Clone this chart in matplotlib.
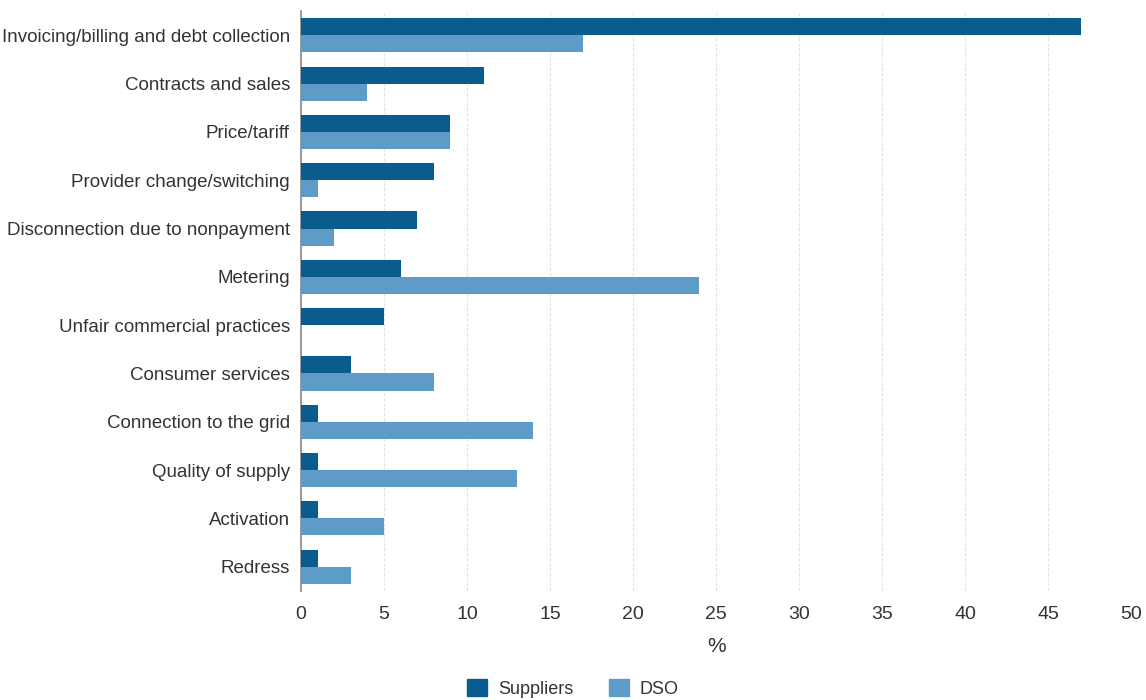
import numpy as np
from matplotlib import pyplot as plt
from matplotlib.patches import Patch

categories = ["Invoicing/billing and debt collection", "Contracts and sales", "Price/tariff",
	"Provider change/switching", "Disconnection due to nonpayment", "Metering",
	"Unfair commercial practices", "Consumer services", "Connection to the grid",
	"Quality of supply", "Activation", "Redress"]
suppliers = [47, 11, 9, 8, 7, 6, 5, 3, 1, 1, 1, 1]
dso = [17, 4, 9, 1, 2, 24, 0, 8, 14, 13, 5, 3]
xticks = [0, 5, 10, 15, 20, 25, 30, 35, 40, 45, 50]

plt.rcParams['font.family'] = ['Liberation Sans Narrow', 'Liberation Sans', 'DejaVu Sans']

dark = "#0b5c8e"
light = "#5e9bc6"
text_col = "#333333"

fig = plt.figure(figsize=(11.46, 7.0), dpi=100)
ax = fig.add_axes([0.2627, 0.156, 0.7243, 0.828])

y = np.arange(len(categories))
h = 0.355
ax.barh(y - h / 2, suppliers, height=h, color=dark, label="Suppliers", zorder=3)
ax.barh(y + h / 2, dso, height=h, color=light, label="DSO", zorder=3)

ax.set_ylim(len(categories) - 0.5, -0.5)
ax.set_yticks(y)
ax.set_yticklabels(categories, fontsize=13.5, color=text_col)
ax.set_xlim(0, 50)
ax.set_xticks(xticks)
ax.set_xticklabels([str(v) for v in xticks], fontsize=14, color=text_col)
ax.tick_params(axis='y', length=0, pad=8)
ax.tick_params(axis='x', length=0, pad=11)
ax.xaxis.grid(True, color="#e2e2e2", linestyle=(0, (3, 1.5)), linewidth=0.8, zorder=0)

for s in ['top', 'right', 'bottom']:
	ax.spines[s].set_visible(False)
ax.spines['left'].set_color("#888888")
ax.spines['left'].set_linewidth(1.2)

ax.set_xlabel("%", fontsize=15, color=text_col, labelpad=10)

handles = [Patch(color=dark, label="Suppliers"), Patch(color=light, label="DSO")]
fig.legend(handles=handles, loc='lower center', bbox_to_anchor=(0.5, -0.02), ncol=2,
	frameon=False, fontsize=13, handlelength=1.1, handleheight=1.1, columnspacing=2.0,
	handletextpad=0.6, labelcolor=text_col)

plt.savefig("out.png")
plt.close(fig)
